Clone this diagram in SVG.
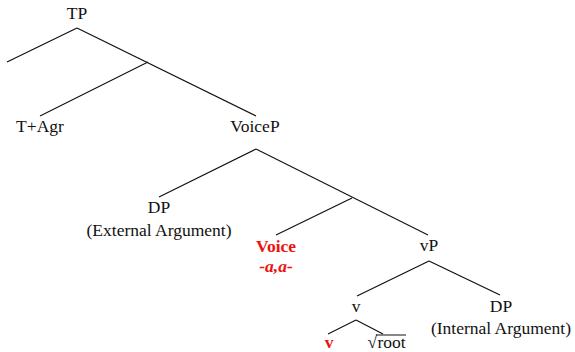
<svg xmlns="http://www.w3.org/2000/svg" width="575" height="352" viewBox="0 0 575 352">
<style>
text{font-family:"Liberation Serif","Times New Roman",serif;font-size:17.5px;fill:#111;text-anchor:middle}
.red{fill:#ee1111;font-weight:bold}
.it{font-style:italic}
#edges line{stroke:#111;stroke-width:1.2;fill:none}
</style>
<rect width="575" height="352" fill="#fff"/>
<g id="edges">
<line x1="77" y1="28" x2="7" y2="62"/>
<line x1="77" y1="28" x2="256" y2="116"/>
<line x1="148" y1="62" x2="40" y2="116"/>
<line x1="256" y1="149" x2="159" y2="197"/>
<line x1="256" y1="149" x2="428" y2="235"/>
<line x1="352" y1="198" x2="276" y2="235"/>
<line x1="429" y1="261" x2="357" y2="296"/>
<line x1="429" y1="261" x2="500" y2="295"/>
<line x1="356" y1="320" x2="328" y2="334"/>
<line x1="356" y1="320" x2="383" y2="334"/>
</g>
<g id="TP"><text x="77" y="19">TP</text></g>
<g id="TAgr"><text x="40" y="132">T+Agr</text></g>
<g id="VoiceP"><text x="255" y="132">VoiceP</text></g>
<g id="DPext"><text x="159" y="213">DP</text><text x="159" y="236">(External Argument)</text></g>
<g id="Voice"><text class="red" x="276" y="252">Voice</text><text class="red it" x="276" y="272">-a,a-</text></g>
<g id="vP"><text x="429" y="251">vP</text></g>
<g id="v"><text x="356" y="312">v</text></g>
<g id="DPint"><text x="501" y="312">DP</text><text x="501" y="334">(Internal Argument)</text></g>
<g id="vred"><text class="red" x="329" y="348">v</text></g>
<g id="root"><text x="377" y="348" style="text-anchor:end">√</text><text x="377.5" y="348" style="text-anchor:start">root</text><line x1="376" y1="335" x2="406" y2="335" stroke="#111" stroke-width="1"/></g>
</svg>
